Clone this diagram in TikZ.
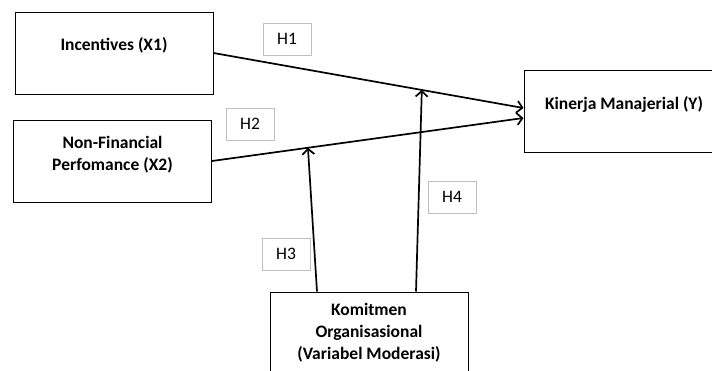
\documentclass[tikz,border=0pt]{standalone}
\usepackage{fontspec}
\setmainfont{Carlito}
\usetikzlibrary{arrows.meta}

% raise the text inside a box without moving the box
\newcommand{\lift}[2]{\raisebox{#1}[\height][\depth]{\begin{tabular}{@{}c@{}}#2\end{tabular}}}

\begin{document}
\begin{tikzpicture}[x=1pt, y=-1pt]
\tikzstyle{var} = [rectangle, draw=black, line width=1pt, font=\bfseries\fontsize{17.5}{22}\selectfont, minimum width=198pt, minimum height=82pt, inner sep=0pt]
\tikzstyle{hyp} = [rectangle, draw=black!25, line width=0.8pt, font=\fontsize{17.5}{20}\selectfont, minimum width=48pt, minimum height=32pt, inner sep=0pt]
\tikzstyle{arrow} = [line width=1.7pt, -{Straight Barb[length=5.5pt, width=12pt]}]

\useasboundingbox (0,0) rectangle (712,370);
\clip (0,0) rectangle (712,370);

\node (incentives) [var] at (114,53) {\lift{7pt}{Incentives (X1)}};
\node (nonfin) [var] at (112.5,161) {\lift{6pt}{Non-Financial\\Perfomance (X2)}};
\node (kinerja) [var, minimum width=200pt] at (624,111) {\lift{6pt}{Kinerja Manajerial (Y)}};
\node (komitmen) [var, minimum height=84pt] at (369,334) {\lift{1pt}{Komitmen\\Organisasional\\(Variabel Moderasi)}};

\node (h1) [hyp] at (287,39) {H1};
\node (h2) [hyp] at (250,124) {H2};
\node (h3) [hyp] at (286,254) {H3};
\node (h4) [hyp] at (452,197) {H4};

\draw [arrow] (incentives.east) -- coordinate[pos=0.672] (m1) ([yshift=3pt]kinerja.west);
\draw [arrow] (nonfin.east) -- coordinate[pos=0.308] (m2) ([yshift=-7pt]kinerja.west);
\draw [arrow] ([xshift=-52pt]komitmen.north) -- (m2);
\draw [arrow] ([xshift=47pt]komitmen.north) -- (m1);
\end{tikzpicture}
\end{document}
